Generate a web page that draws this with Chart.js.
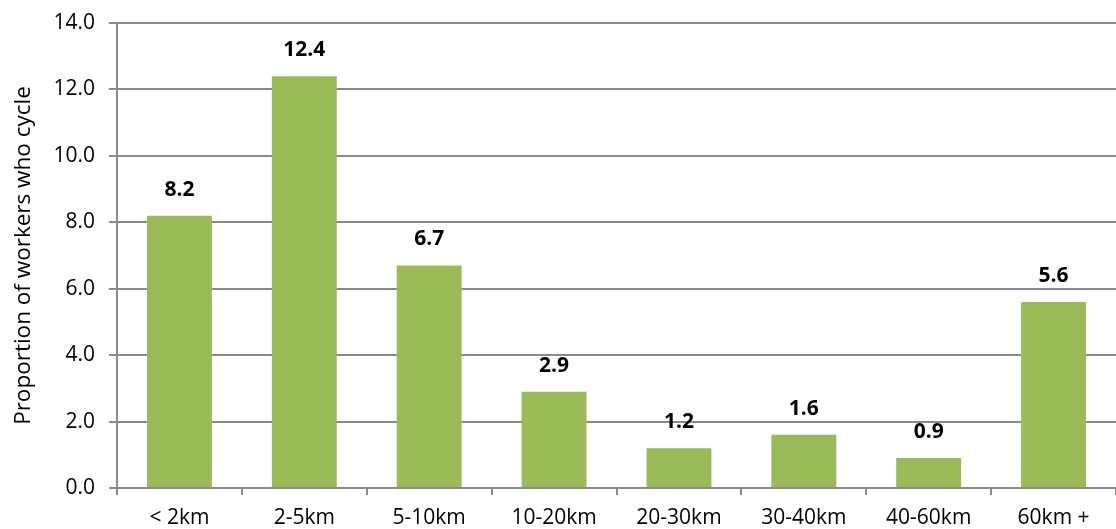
<!DOCTYPE html>
<html>
<head>
<meta charset="utf-8">
<script src="https://cdn.jsdelivr.net/npm/chart.js@4/dist/chart.umd.min.js"></script>
<style>
  html, body { margin: 0; padding: 0; background: #fff; }
  #wrap { width: 1116px; height: 529px; }
</style>
</head>
<body>
<div id="wrap"><canvas id="cycleChart"></canvas></div>
<script>
// distance bands and share of workers who cycle
const distances = ['< 2km', '2-5km', '5-10km', '10-20km', '20-30km', '30-40km', '40-60km', '60km +'];
const cycleShare = [8.2, 12.4, 6.7, 2.9, 1.2, 1.6, 0.9, 5.6];
const yTicks = [0, 2, 4, 6, 8, 10, 12, 14];

const fontFamily = "'Open Sans', 'Liberation Sans', sans-serif";
const axisGrey = '#8a8a8a';

// write the value above each bar
const valueLabels = {
  id: 'valueLabels',
  afterDatasetsDraw(chart) {
    const ctx = chart.ctx;
    const meta = chart.getDatasetMeta(0);
    ctx.save();
    ctx.font = "bold 21px " + fontFamily;
    ctx.fillStyle = '#000';
    ctx.textAlign = 'center';
    ctx.textBaseline = 'middle';
    meta.data.forEach((bar, i) => {
      ctx.fillText(cycleShare[i].toFixed(1), bar.x, bar.y - 26);
    });
    ctx.restore();
  }
};

new Chart(document.getElementById('cycleChart'), {
  type: 'bar',
  data: {
    labels: distances,
    datasets: [{
      data: cycleShare,
      backgroundColor: '#9bbb59',
      borderWidth: 0,
      barPercentage: 0.52,
      categoryPercentage: 1
    }]
  },
  options: {
    responsive: true,
    maintainAspectRatio: false,
    animation: false,
    layout: { padding: { top: 23, right: 0, left: 0, bottom: 0 } },
    plugins: {
      legend: { display: false },
      tooltip: { enabled: false }
    },
    scales: {
      x: {
        offset: true,
        grid: {
          offset: true,
          drawOnChartArea: false,
          drawTicks: true,
          tickLength: 7,
          color: axisGrey,
          lineWidth: 2
        },
        border: { color: axisGrey, width: 2 },
        ticks: {
          color: '#000',
          font: { family: fontFamily, size: 21 },
          padding: 10,
          maxRotation: 0
        },
        afterFit(scale) { scale.height = 41; }
      },
      y: {
        min: 0,
        max: 14,
        afterBuildTicks(scale) {
          scale.ticks = yTicks.map(v => ({ value: v }));
        },
        grid: {
          color: axisGrey,
          lineWidth: 2,
          tickLength: 8
        },
        border: { color: axisGrey, width: 2 },
        ticks: {
          color: '#000',
          font: { family: fontFamily, size: 21 },
          padding: 14,
          callback: v => Number(v).toFixed(1)
        },
        title: {
          display: true,
          text: 'Proportion of workers who cycle',
          color: '#000',
          font: { family: fontFamily, size: 22.5 },
          padding: { top: 10, bottom: 2 }
        },
        afterFit(scale) {
          scale.width = 117;
          scale.paddingTop = 0;
          scale.paddingBottom = 0;
        }
      }
    }
  },
  plugins: [valueLabels]
});
</script>
</body>
</html>
